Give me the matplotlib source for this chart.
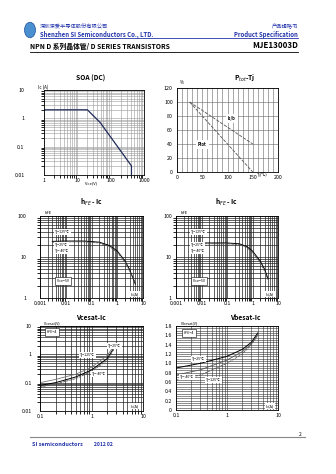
import numpy as np
import matplotlib.pyplot as plt
from matplotlib.patches import Circle
from matplotlib.ticker import FixedLocator, NullFormatter

plt.rcParams['font.family'] = ['Noto Sans CJK SC', 'DejaVu Sans']

W, H = 336, 474

# SOA (DC)
soa_v = [1, 20, 48, 420, 420]
soa_i = [2.0, 2.0, 0.72, 0.021, 0.01]

# Ptot / Is/b derating vs Tj
tj = [25, 150]
ptot = [100, 0]
isb = [100, 40]

# hFE - Ic (left)
ic_h1 = [0.003, 0.01, 0.05, 0.2, 0.5, 1, 2, 3, 5]
hfe1_a = [24, 24.5, 24.5, 23, 19, 14, 8, 5, 2.2]
hfe1_b = [23, 23.5, 23.5, 22, 18, 13, 7.5, 4.6, 2.4]

# hFE - Ic (right)
ic_h2 = [0.004, 0.01, 0.1, 0.3, 0.6, 1, 2, 3, 4]
hfe2_a = [22, 22, 22, 21, 18, 14, 8, 5, 3]
hfe2_b = [21, 21, 21, 20, 17, 13, 7.3, 4.5, 2.8]

# Vcesat - Ic
ic_ce = [0.1, 0.2, 0.5, 1, 2, 3]
vce_a = [0.1, 0.13, 0.2, 0.35, 0.9, 2.5]
vce_b = [0.08, 0.1, 0.16, 0.28, 0.7, 2.2]
vce_c = [0.07, 0.09, 0.14, 0.25, 0.6, 2.0]

# Vbesat - Ic
ic_be = [0.1, 0.3, 1, 2, 3, 4]
vbe_a = [0.9, 1.0, 1.15, 1.3, 1.45, 1.65]
vbe_b = [0.75, 0.86, 1.07, 1.25, 1.42, 1.62]
vbe_c = [0.64, 0.75, 1.0, 1.2, 1.4, 1.6]

fig = plt.figure(figsize=(W / 100, H / 100), dpi=100)
fig.patch.set_facecolor('white')


def px_axes(l, t, r, b):
    return fig.add_axes([l / W, 1 - b / H, (r - l) / W, (b - t) / H])


def ftext(x, y, s, **kw):
    fig.text(x / W, 1 - y / H, s, **kw)


def style(ax, ypad):
    ax.tick_params(labelsize=3.8, length=0, pad=2)
    ax.tick_params(axis='y', pad=ypad)
    for sp in ax.spines.values():
        sp.set_linewidth(0.6)


def log_grid(ax, color, lw):
    ax.grid(True, which='both', color=color, linewidth=lw)
    ax.set_axisbelow(True)


# header
blue = '#2233aa'
fig.add_artist(Circle((30 / W, 1 - 30 / H), 5.5 / W, transform=fig.transFigure,
                      facecolor='#4a8fd0', edgecolor='#1f4f9a', lw=0.5))
ftext(40, 27, '深圳深爱半导体股份有限公司', fontsize=3.8, color=blue, va='center')
ftext(40, 34, 'Shenzhen SI Semiconductors Co., LTD.', fontsize=4.3, color=blue,
      weight='bold', va='center')
ftext(298, 27, '产品规格书', fontsize=3.8, color=blue, va='center', ha='right')
ftext(298, 34, 'Product Specification', fontsize=4.3, color=blue, weight='bold',
      va='center', ha='right')
fig.add_artist(plt.Line2D([40 / W, 298 / W], [1 - 38 / H] * 2, color=blue, lw=0.6))
ftext(30, 46, 'NPN D 系列晶体管/ D SERIES TRANSISTORS', fontsize=4.9, weight='bold',
      va='center')
ftext(298, 46, 'MJE13003D', fontsize=5.8, weight='bold', va='center', ha='right')
fig.add_artist(plt.Line2D([30 / W, 298 / W], [1 - 51.5 / H] * 2, color='black', lw=0.6))

# SOA
ax = px_axes(44, 90, 144, 175)
ax.plot(soa_v, soa_i, color='#1f2a5a', lw=0.9)
ax.set_xscale('log')
ax.set_yscale('log')
ax.set_xlim(1, 1000)
ax.set_ylim(0.01, 10)
ax.set_xticks([1, 10, 100, 1000], ['1', '10', '100', '1000'])
ax.set_yticks([0.01, 0.1, 1, 10], ['0.01', '0.1', '1', '10'])
ax.xaxis.set_minor_formatter(NullFormatter())
ax.yaxis.set_minor_formatter(NullFormatter())
style(ax, 14)
log_grid(ax, '#999999', 0.4)
ftext(91, 183, 'Vce(V)', fontsize=3, va='center', ha='center')
ftext(38, 87, 'Ic (A)', fontsize=3.2, va='center')
ftext(91, 78, 'SOA (DC)', fontsize=4.8, weight='bold', ha='center', va='center')

# Ptot - Tj
ax = px_axes(177, 88, 278, 172)
ax.plot(tj, ptot, color='#555555', lw=0.6, ls=(0, (4, 1.5)))
ax.plot(tj, isb, color='#555555', lw=0.6, ls=(0, (4, 1.5)))
ax.set_xlim(0, 200)
ax.set_ylim(0, 120)
ax.set_xticks(np.arange(0, 201, 50))
ax.xaxis.set_minor_locator(FixedLocator(np.arange(0, 201, 10)))
ax.set_yticks(np.arange(0, 121, 20))
style(ax, 3)
ax.grid(True, which='both', color='#666666', lw=0.4)
ax.set_axisbelow(True)
ax.tick_params(which='minor', length=0)
ax.text(108, 77, 'Is/b', fontsize=3, weight='bold', ha='center', va='center',
        bbox=dict(facecolor='white', edgecolor='none', pad=1.5))
ax.text(50, 39, 'Ptot', fontsize=3, weight='bold', ha='center', va='center',
        bbox=dict(facecolor='white', edgecolor='none', pad=1.5))
ftext(262, 175, 'Tj(℃)', fontsize=3, va='center', ha='center')
ftext(180, 82, '%', fontsize=3.2, va='center')
ftext(245, 78, 'P$_{tot}$-Tj', fontsize=4.8, weight='bold', ha='center', va='center')


def hfe_chart(l, r, ic, ha_, hb_, title, lab_x, ypad):
    ax = px_axes(l, 216, r, 298)
    ax.plot(ic, ha_, color='black', lw=0.7)
    ax.plot(ic, hb_, color='#555555', lw=0.6, ls=(0, (3, 1)))
    ax.set_xscale('log')
    ax.set_yscale('log')
    ax.set_xlim(0.001, 10)
    ax.set_ylim(1, 100)
    ax.set_xticks([0.001, 0.01, 0.1, 1, 10], ['0.001', '0.01', '0.1', '1', '10'])
    ax.set_yticks([1, 10, 100], ['1', '10', '100'])
    ax.xaxis.set_minor_formatter(NullFormatter())
    ax.yaxis.set_minor_formatter(NullFormatter())
    style(ax, ypad)
    log_grid(ax, '#222222', 0.5)
    cx = (l + r) / 2
    ftext(cx, 202, title, fontsize=4.8, weight='bold', ha='center', va='center')
    ftext(l + 5, 213, 'hFE', fontsize=3, va='center')
    ftext(r - 8, 294, 'Ic(A)', fontsize=2.8, va='center', ha='center',
          bbox=dict(facecolor='white', edgecolor='none', pad=0.5))
    bb = dict(facecolor='white', edgecolor='none', pad=0.6)
    ftext(lab_x, 232, 'Tj=125℃', fontsize=2.6, va='center', bbox=bb)
    ftext(lab_x, 245, 'Tj=25℃', fontsize=2.6, va='center', bbox=bb)
    ftext(lab_x, 251, 'Tj=-40℃', fontsize=2.6, va='center', bbox=bb)
    ftext(lab_x + 2, 281, 'Vce=5V', fontsize=2.6, va='center',
          bbox=dict(facecolor='white', edgecolor='black', lw=0.4, pad=1.5))


hfe_chart(40, 143, ic_h1, hfe1_a, hfe1_b, 'h$_{FE}$ - Ic', 55, 10)
hfe_chart(176, 278, ic_h2, hfe2_a, hfe2_b, 'h$_{FE}$ - Ic', 191, 3)

# Vcesat - Ic
ax = px_axes(40, 326, 143, 411)
ax.plot(ic_ce, vce_a, color='#777777', lw=0.6)
ax.plot(ic_ce, vce_b, color='black', lw=0.7)
ax.plot(ic_ce, vce_c, color='#555555', lw=0.6, ls=(0, (3, 1)))
ax.set_xscale('log')
ax.set_yscale('log')
ax.set_xlim(0.1, 10)
ax.set_ylim(0.01, 10)
ax.set_xticks([0.1, 1, 10], ['0.1', '1', '10'])
ax.set_yticks([0.01, 0.1, 1, 10], ['0.01', '0.1', '1', '10'])
ax.xaxis.set_minor_formatter(NullFormatter())
ax.yaxis.set_minor_formatter(NullFormatter())
style(ax, 6)
log_grid(ax, '#222222', 0.5)
ftext(91, 317, 'Vcesat-Ic', fontsize=4.8, weight='bold', ha='center', va='center')
ftext(44, 323, 'Vcesat(V)', fontsize=2.6, va='center')
ftext(47, 332, 'hFE=4', fontsize=2.6, va='center',
      bbox=dict(facecolor='white', edgecolor='black', lw=0.4, pad=1.5))
bb = dict(facecolor='white', edgecolor='none', pad=0.6)
ftext(80, 355, 'Tj=125℃', fontsize=2.6, va='center', bbox=bb)
ftext(108, 346, 'Tj=25℃', fontsize=2.6, va='center', bbox=bb)
ftext(92, 374, 'Tj=-40℃', fontsize=2.6, va='center', bbox=bb)
ftext(135, 406, 'Ic(A)', fontsize=2.8, va='center', ha='center', bbox=bb)

# Vbesat - Ic
ax = px_axes(176, 326, 278, 410)
ax.plot(ic_be, vbe_a, color='black', lw=0.7)
ax.plot(ic_be, vbe_b, color='#555555', lw=0.6)
ax.plot(ic_be, vbe_c, color='#555555', lw=0.6, ls=(0, (3, 1)))
ax.set_xscale('log')
ax.set_xlim(0.1, 10)
ax.set_ylim(0, 1.8)
ax.set_xticks([0.1, 1, 10], ['0.1', '1', '10'])
ax.xaxis.set_minor_formatter(NullFormatter())
ax.set_yticks(np.arange(0, 1.81, 0.2), ['0'] + ['%.1f' % v for v in np.arange(0.2, 1.81, 0.2)])
ax.yaxis.set_minor_locator(FixedLocator(np.arange(0, 1.81, 0.05)))
style(ax, 3)
ax.tick_params(which='minor', length=0)
ax.grid(True, which='both', color='#333333', lw=0.4)
ax.set_axisbelow(True)
ftext(245, 317, 'Vbesat-Ic', fontsize=4.8, weight='bold', ha='center', va='center')
ftext(181, 323, 'Vbesat(V)', fontsize=2.6, va='center')
ftext(184, 333, 'hFE=4', fontsize=2.6, va='center',
      bbox=dict(facecolor='white', edgecolor='black', lw=0.4, pad=1.5))
ftext(192, 359, 'Tj=25℃', fontsize=2.6, va='center', bbox=bb)
ftext(180, 377, 'Tj=-40℃', fontsize=2.6, va='center', bbox=bb)
ftext(206, 380, 'Tj=125℃', fontsize=2.6, va='center', bbox=bb)
ftext(270, 406, 'Ic(A)', fontsize=2.8, va='center', ha='center', bbox=bb)

# footer
fig.add_artist(plt.Line2D([30 / W, 305 / W], [1 - 437 / H] * 2, color='#888888', lw=0.8))
ftext(300, 434, '2', fontsize=3.5, va='center', ha='center')
ftext(32, 445, 'SI semiconductors', fontsize=4, color=blue, weight='bold',
      style='italic', va='center')
ftext(94, 445, '2012 02', fontsize=3.6, color=blue, weight='bold', style='italic',
      va='center')

fig.savefig('out.png', dpi=100, facecolor='white')
